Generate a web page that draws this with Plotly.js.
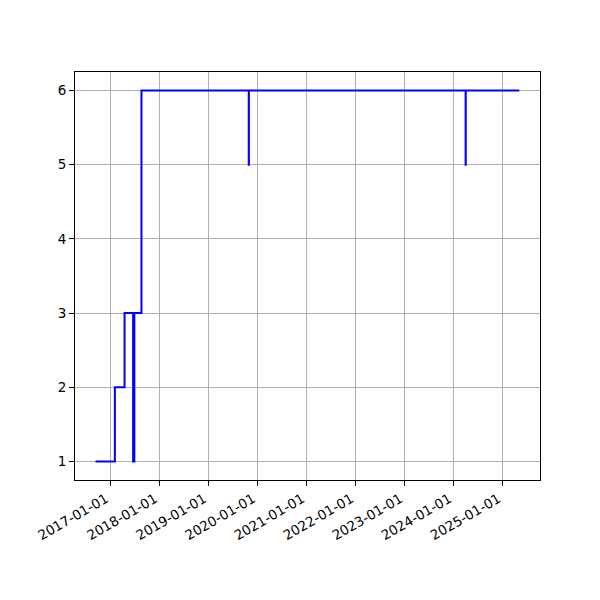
<!DOCTYPE html>
<html>
<head>
<meta charset="utf-8">
<script src="https://cdn.plot.ly/plotly-3.0.1.min.js"></script>
<style>html,body{margin:0;padding:0;background:#fff;}</style>
</head>
<body>
<div id="chart" style="width:600px;height:600px;"></div>
<script>
const dates = ["2016-09-15","2017-02-06","2017-04-19","2017-06-22","2017-06-25","2017-06-28","2017-07-01","2017-08-23","2019-10-31","2019-11-01","2024-04-02","2024-04-03","2025-05-07"];
const levels = [1,2,3,1,3,1,3,6,5,6,5,6,6];
const yTicks = [1,2,3,4,5,6];

const trace = {
  x: dates, y: levels, type: "scatter", mode: "lines",
  line: {shape: "hv", color: "#0000ff", width: 2}
};
const axisCommon = {
  showline: true, linecolor: "#000", linewidth: 1, mirror: true,
  ticks: "outside", ticklen: 5, tickwidth: 1, tickcolor: "#000",
  showgrid: true, gridcolor: "#b0b0b0", gridwidth: 1, zeroline: false,
  tickfont: {family: "DejaVu Sans", size: 13.5, color: "#000"}
};
const layout = {
  width: 600, height: 600,
  margin: {l: 75, r: 60, t: 72, b: 120},
  paper_bgcolor: "#fff", plot_bgcolor: "#fff",
  showlegend: false,
  xaxis: Object.assign({}, axisCommon, {
    type: "date", range: ["2016-04-15", "2025-10-08"],
    tick0: "2017-01-01", dtick: "M12", tickformat: "%Y-%m-%d", tickangle: -30,
    ticklabelshift: -4
  }),
  yaxis: Object.assign({}, axisCommon, {
    range: [0.75, 6.25], tickvals: yTicks, ticktext: yTicks.map(String)
  })
};
Plotly.newPlot("chart", [trace], layout, {displayModeBar: false, staticPlot: true});
</script>
</body>
</html>
